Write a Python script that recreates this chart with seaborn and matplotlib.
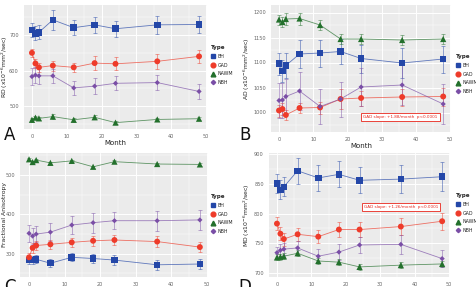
import numpy as np
import pandas as pd
import matplotlib
matplotlib.use("Agg")
import matplotlib.pyplot as plt
from matplotlib.lines import Line2D
import seaborn as sns

# Messmonate und Gewebetypen
months = [0, 1, 2, 6, 12, 18, 24, 36, 48]
types = ["BH", "GAD", "NAWM", "NBH"]

# RD (x10^-6 mm^2/sec)
rd_bh = [714, 705, 708, 743, 721, 729, 718, 729, 730]
rd_gad = [650, 620, 609, 614, 609, 621, 619, 626, 640]
rd_nawm = [461, 467, 465, 470, 461, 468, 453, 462, 464]
rd_nbh = [583, 587, 585, 585, 551, 556, 564, 566, 541]
rd_bh_err = [20, 20, 20, 28, 22, 22, 22, 25, 25]
rd_gad_err = [12, 12, 12, 14, 12, 20, 18, 22, 18]
rd_nawm_err = [5, 5, 5, 6, 5, 6, 4, 5, 5]
rd_nbh_err = [25, 22, 22, 20, 20, 22, 20, 22, 22]

# AD
ad_bh = [1098, 1083, 1094, 1117, 1119, 1122, 1108, 1099, 1107]
ad_gad = [1004, 1007, 995, 1009, 1010, 1027, 1029, 1031, 1032]
ad_nawm = [1186, 1181, 1187, 1188, 1175, 1147, 1147, 1145, 1147]
ad_nbh = [1024, 1025, 1032, 1043, 1012, 1027, 1051, 1055, 1017]
ad_bh_err = [22, 22, 25, 28, 27, 25, 28, 30, 27]
ad_gad_err = [12, 12, 10, 10, 12, 20, 15, 17, 18]
ad_nawm_err = [10, 10, 12, 12, 10, 10, 10, 10, 10]
ad_nbh_err = [35, 35, 35, 38, 35, 35, 38, 40, 40]

# FA
fa_bh = [284, 284, 286, 276, 291, 288, 284, 272, 274]
fa_gad = [291, 315, 321, 324, 329, 333, 335, 331, 317]
fa_nawm = [540, 533, 538, 531, 536, 521, 534, 528, 527]
fa_nbh = [352, 345, 350, 355, 373, 379, 384, 384, 386]
fa_bh_err = [10, 10, 10, 10, 10, 12, 12, 12, 12]
fa_gad_err = [10, 12, 12, 12, 12, 13, 13, 13, 12]
fa_nawm_err = [3, 3, 3, 3, 3, 3, 3, 3, 3]
fa_nbh_err = [22, 20, 20, 22, 22, 25, 22, 25, 25]

# MD
md_bh = [851, 840, 845, 872, 860, 866, 856, 858, 862]
md_gad = [783, 766, 757, 765, 761, 773, 773, 778, 787]
md_nawm = [726, 727, 728, 733, 720, 718, 710, 713, 715]
md_nbh = [734, 738, 740, 742, 728, 735, 747, 748, 724]
md_bh_err = [16, 16, 16, 22, 22, 22, 22, 24, 24]
md_gad_err = [11, 11, 11, 11, 11, 12, 12, 14, 14]
md_nawm_err = [5, 5, 5, 5, 5, 5, 5, 5, 5]
md_nbh_err = [10, 10, 10, 12, 12, 14, 14, 16, 14]

farben = {"BH": "#2447a8", "GAD": "#ee3b2a", "NAWM": "#23702c", "NBH": "#7a4ea6"}
marker = {"BH": "s", "GAD": "o", "NAWM": "^", "NBH": "D"}
msize = {"BH": 22, "GAD": 18, "NAWM": 20, "NBH": 7}


def tabelle(werte, fehler):
    zeilen = []
    for t, w, f in zip(types, werte, fehler):
        for m, v, e in zip(months, w, f):
            zeilen.append({"Month": m, "Type": t, "wert": v, "fehler": e})
    return pd.DataFrame(zeilen)


panels = [
    ("A", tabelle([rd_bh, rd_gad, rd_nawm, rd_nbh],
                  [rd_bh_err, rd_gad_err, rd_nawm_err, rd_nbh_err]),
     r"RD (x10$^{-6}$mm$^2$/sec)", (435, 785), [500, 600, 700], [450, 550, 650, 750]),
    ("B", tabelle([ad_bh, ad_gad, ad_nawm, ad_nbh],
                  [ad_bh_err, ad_gad_err, ad_nawm_err, ad_nbh_err]),
     r"AD (x10$^{-6}$mm$^2$/sec)", (961, 1215), [1000, 1050, 1100, 1150, 1200],
     [975, 1025, 1075, 1125, 1175]),
    ("C", tabelle([fa_bh, fa_gad, fa_nawm, fa_nbh],
                  [fa_bh_err, fa_gad_err, fa_nawm_err, fa_nbh_err]),
     "Fractional Anisotropy", (241, 556), [300, 400, 500], [250, 350, 450, 550]),
    ("D", tabelle([md_bh, md_gad, md_nawm, md_nbh],
                  [md_bh_err, md_gad_err, md_nawm_err, md_nbh_err]),
     r"MD (x10$^{-6}$mm$^2$/sec)", (693, 902), [700, 750, 800, 850, 900],
     [725, 775, 825, 875]),
]

W, H = 477, 287


def box(l, r, t, b):
    return [l / W, 1 - b / H, (r - l) / W, (b - t) / H]


positionen = {
    "A": box(23.6, 207.4, 5, 129),
    "B": box(270.8, 451.4, 5, 132),
    "C": box(20.5, 208.4, 153, 277),
    "D": box(268.7, 450.4, 153, 277),
}
legende_pos = {"A": (211, 45), "B": (456, 54), "C": (211, 194), "D": (456, 193)}
buchstabe_pos = {"A": (10, 140), "B": (245, 140), "C": (10, 292), "D": (245, 292)}
ylabel_x = {"A": -0.075, "B": -0.105, "C": -0.07, "D": -0.09}

sns.set_theme(style="darkgrid")
plt.rcParams["font.family"] = ["DejaVu Sans"]

fig = plt.figure(figsize=(W / 100, H / 100), dpi=100)

for name, df, ylab, ylim, yticks, yminor in panels:
    ax = fig.add_axes(positionen[name])
    ax.set_facecolor("#ebebeb")

    # Linien und Fehlerbalken
    sns.lineplot(data=df, x="Month", y="wert", hue="Type", palette=farben,
                 ax=ax, legend=False, linewidth=0.6, alpha=0.7, errorbar=None)
    for t in types:
        d = df[df["Type"] == t]
        ax.errorbar(d["Month"], d["wert"], yerr=d["fehler"], fmt="none",
                    ecolor=farben[t], alpha=0.55, elinewidth=0.6, capsize=1.6,
                    capthick=0.6)
    sns.scatterplot(data=df, x="Month", y="wert", hue="Type", style="Type",
                    palette=farben, markers=marker, size="Type", sizes=msize,
                    ax=ax, legend=False, linewidth=0, zorder=5)

    ax.set_xlim(-2.4, 50.4)
    ax.set_ylim(*ylim)
    ax.set_xticks([0, 10, 20, 30, 40, 50])
    ax.set_xticks([5, 15, 25, 35, 45], minor=True)
    ax.set_yticks(yticks)
    ax.set_yticks(yminor, minor=True)
    ax.grid(which="major", color="white", linewidth=0.7)
    ax.grid(which="minor", color="white", linewidth=0.3)
    for s in ax.spines.values():
        s.set_visible(False)
    ax.tick_params(which="major", length=2, width=0.4, color="#555555",
                   labelsize=3.6, labelcolor="#666666", pad=1.5)
    ax.tick_params(which="minor", length=0)
    if name in ("A", "B"):
        ax.set_xlabel("Month", fontsize=5, labelpad=0.5, color="#222222")
    else:
        ax.set_xlabel("")
    ax.set_ylabel(ylab, fontsize=4.4, color="#222222")
    ax.yaxis.set_label_coords(ylabel_x[name], 0.5)

    # Legende rechts vom Panel
    griffe = [Line2D([], [], linestyle="none", marker=marker[t],
                     color=farben[t], markersize=3.4 if t != "NBH" else 2.2)
              for t in types]
    lx, ly = legende_pos[name]
    leg = ax.legend(griffe, types, title="Type", loc="upper left",
                    bbox_to_anchor=(lx / W, 1 - ly / H),
                    bbox_transform=fig.transFigure, frameon=False,
                    fontsize=3.4, title_fontsize=4, handlelength=1,
                    handletextpad=0.4, labelspacing=0.8, borderpad=0,
                    borderaxespad=0)
    leg.get_title().set_fontweight("bold")
    leg._legend_box.align = "left"

    bx, by = buchstabe_pos[name]
    fig.text(bx / W, 1 - by / H, name, fontsize=12, ha="center", va="baseline",
             color="#111111")

    if name == "B":
        ax.text(35.5, 991, "GAD slope: +1.88/month  p<0.0001", fontsize=3.0,
                color="#e8261c", ha="center", va="center", zorder=6,
                bbox=dict(boxstyle="square,pad=0.5", fc="white", ec="#e8261c",
                          lw=0.6))
    if name == "D":
        ax.text(36, 811, "GAD slope: +1.26/month  p<0.0001", fontsize=3.0,
                color="#e8261c", ha="center", va="center", zorder=6,
                bbox=dict(boxstyle="square,pad=0.5", fc="white", ec="#e8261c",
                          lw=0.6))

fig.savefig("out.png", dpi=100)
